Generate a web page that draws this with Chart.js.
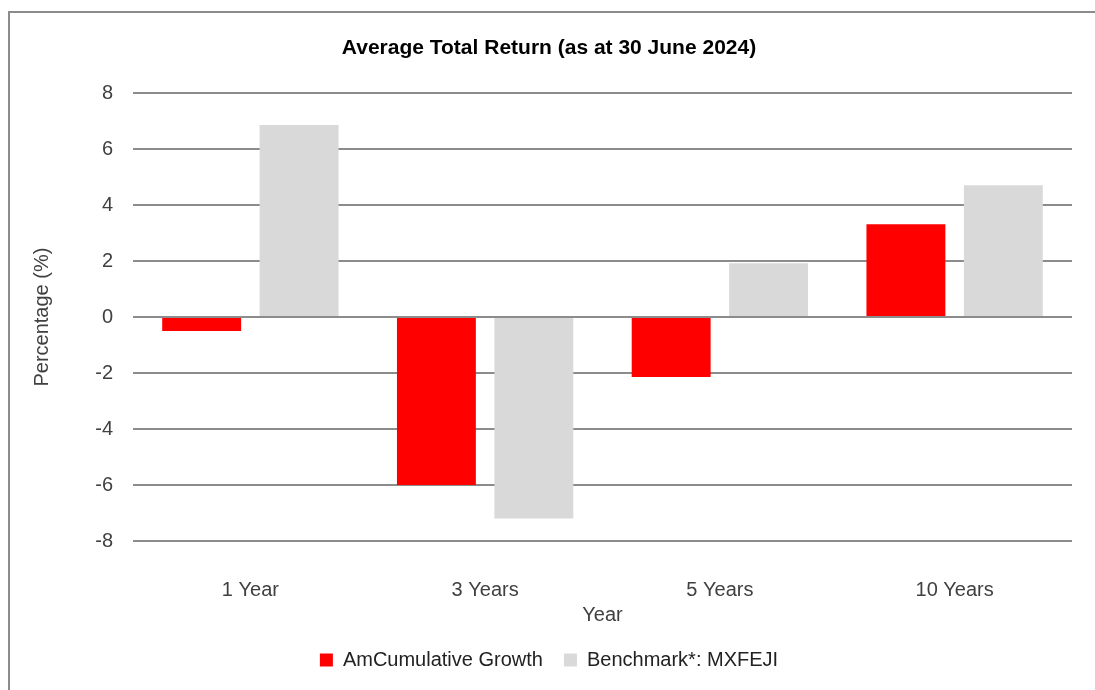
<!DOCTYPE html>
<html>
<head>
<meta charset="utf-8">
<script src="https://cdn.jsdelivr.net/npm/chart.js@4.4.1/dist/chart.umd.min.js"></script>
<style>
  html, body { margin: 0; padding: 0; background: #fff; }
  #wrap { width: 1095px; height: 690px; position: relative; }
</style>
</head>
<body>
<div id="wrap"><canvas id="chart"></canvas></div>
<script>
const categories = ["1 Year", "3 Years", "5 Years", "10 Years"];
const fundReturns = [-0.5, -6.0, -2.14, 3.32];
const benchmarkReturns = [6.86, -7.2, 1.92, 4.71];
const yTicks = [-8, -6, -4, -2, 0, 2, 4, 6, 8];

const FONT = "'Liberation Sans', Arial, sans-serif";

// outer frame like the exported chart object
const framePlugin = {
  id: "frame",
  beforeDraw(chart) {
    const ctx = chart.ctx;
    ctx.save();
    ctx.fillStyle = "#ffffff";
    ctx.fillRect(0, 0, chart.width, chart.height);
    ctx.strokeStyle = "#8c8c8c";
    ctx.lineWidth = 2;
    ctx.strokeRect(9, 12, chart.width + 20, chart.height + 20);
    ctx.restore();
  },
};

new Chart(document.getElementById("chart"), {
  type: "bar",
  data: {
    labels: categories,
    datasets: [
      {
        label: "AmCumulative Growth",
        data: fundReturns,
        backgroundColor: "#ff0000",
        borderWidth: 0,
      },
      {
        label: "Benchmark*: MXFEJI",
        data: benchmarkReturns,
        backgroundColor: "#d9d9d9",
        borderWidth: 0,
      },
    ],
  },
  plugins: [framePlugin],
  options: {
    responsive: true,
    maintainAspectRatio: false,
    animation: false,
    categoryPercentage: 0.83,
    barPercentage: 0.81,
    layout: {
      padding: { top: 21, left: 26, right: 23, bottom: 10 },
    },
    plugins: {
      title: {
        display: true,
        text: "Average Total Return (as at 30 June 2024)",
        color: "#000000",
        font: { family: FONT, size: 21, weight: "bold" },
        padding: { top: 15, bottom: 32 },
      },
      legend: {
        position: "bottom",
        labels: {
          color: "#222222",
          font: { family: FONT, size: 20 },
          boxWidth: 13,
          boxHeight: 13,
          padding: 21,
        },
      },
      tooltip: { enabled: false },
    },
    scales: {
      x: {
        grid: { display: false, drawTicks: false },
        border: { display: false },
        ticks: {
          color: "#404040",
          font: { family: FONT, size: 20 },
          padding: 37,
        },
        title: {
          display: true,
          text: "Year",
          color: "#404040",
          font: { family: FONT, size: 20 },
          padding: { top: 0, bottom: 2 },
        },
        afterFit(scale) {
          scale.height = 88;
        },
      },
      y: {
        min: -8,
        max: 8,
        afterBuildTicks(scale) {
          scale.ticks = yTicks.map((v) => ({ value: v }));
        },
        grid: { color: "#8c8c8c", lineWidth: 2, drawTicks: false },
        border: { display: false },
        ticks: {
          color: "#404040",
          font: { family: FONT, size: 20 },
          padding: 20,
        },
        title: {
          display: true,
          text: "Percentage (%)",
          color: "#404040",
          font: { family: FONT, size: 20 },
          padding: { top: 4, bottom: 4 },
        },
        afterFit(scale) {
          scale.width = 107;
        },
      },
    },
  },
});
</script>
</body>
</html>
